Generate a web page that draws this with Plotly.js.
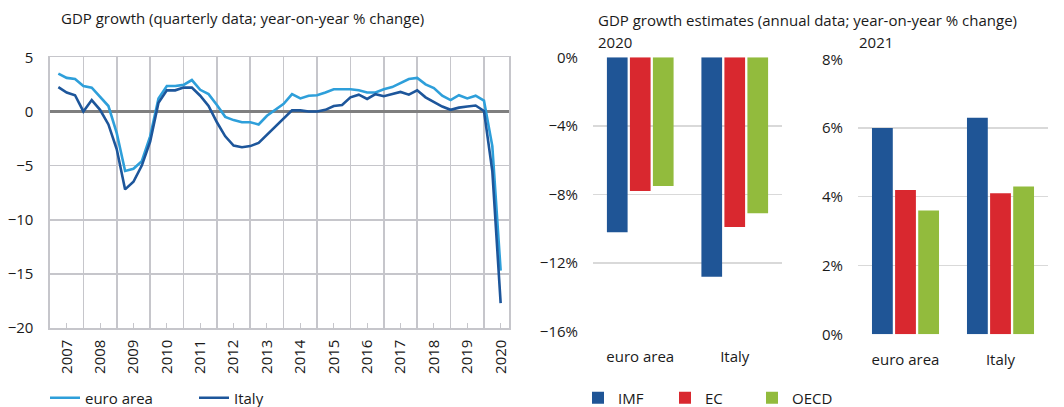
<!DOCTYPE html>
<html>
<head>
<meta charset="utf-8">
<script src="https://cdn.plot.ly/plotly-3.0.1.min.js"></script>
<style>html,body{margin:0;padding:0;background:#fff}#chart{width:1064px;height:407px}</style>
</head>
<body>
<div id="chart"></div>
<script>
// ---- Data: quarterly GDP growth (y/y %), 2007Q1 .. 2020Q2 ----
const startYear = 2007;
const nQuarters = 54;
const euroArea = [3.5, 3.1, 3.0, 2.35, 2.2, 1.4, 0.5, -2.0,
  -5.5, -5.3, -4.6, -2.3, 1.2, 2.35, 2.35, 2.45,
  2.9, 2.0, 1.6, 0.6, -0.5, -0.8, -1.0, -1.0,
  -1.2, -0.4, 0.15, 0.7, 1.6, 1.2, 1.45, 1.5,
  1.75, 2.05, 2.05, 2.05, 1.95, 1.75, 1.75, 2.05,
  2.25, 2.65, 3.0, 3.1, 2.5, 2.15, 1.45, 1.05,
  1.5, 1.2, 1.45, 1.0, -3.2, -14.7];
const italy = [2.25, 1.75, 1.5, 0.0, 1.05, 0.15, -1.2, -3.5,
  -7.2, -6.5, -5.0, -2.8, 0.8, 1.95, 1.95, 2.2,
  2.2, 1.45, 0.5, -1.0, -2.3, -3.15, -3.3, -3.2,
  -2.9, -2.15, -1.4, -0.7, 0.1, 0.1, 0.0, 0.0,
  0.15, 0.5, 0.6, 1.3, 1.55, 1.15, 1.6, 1.4,
  1.6, 1.8, 1.55, 1.95, 1.3, 0.9, 0.45, 0.15,
  0.35, 0.45, 0.55, 0.05, -5.5, -17.7];
const yearLabels = ['2007','2008','2009','2010','2011','2012','2013','2014','2015','2016','2017','2018','2019','2020'];

// ---- Data: annual GDP growth estimates (%) ----
const countries = ['euro area', 'Italy'];
const sources = ['IMF', 'EC', 'OECD'];
const est2020 = {IMF: [-10.2, -12.8], EC: [-7.8, -9.9], OECD: [-7.5, -9.1]};
const est2021 = {IMF: [6.0, 6.3], EC: [4.2, 4.1], OECD: [3.6, 4.3]};
const sourceColors = {IMF: '#1f5596', EC: '#d9282f', OECD: '#92bb3d'};

// quarter-end positions on a numeric year axis
const qx = [];
for (let i = 0; i < nQuarters; i++) qx.push(startYear + (i + 1) / 4);
const yearMid = yearLabels.map(y => +y + 0.5);
const yearEdges = yearLabels.slice(1).map(y => +y);

const W = 1064, H = 407;
const px = v => v / W;
const py = v => 1 - v / H;

const FONT = 'Open Sans, Noto Sans, sans-serif';
const TXT = '#1a1a1a';

const traces = [
  {x: qx, y: euroArea, name: 'euro area', type: 'scatter', mode: 'lines',
   line: {color: '#2e9fda', width: 2.6}, xaxis: 'x', yaxis: 'y', legend: 'legend'},
  {x: qx, y: italy, name: 'Italy', type: 'scatter', mode: 'lines',
   line: {color: '#1d569b', width: 2.6}, xaxis: 'x', yaxis: 'y', legend: 'legend'}
];
sources.forEach(s => {
  traces.push({x: countries, y: est2020[s], name: s, type: 'bar',
    marker: {color: sourceColors[s]}, xaxis: 'x2', yaxis: 'y2', legend: 'legend2'});
});
sources.forEach(s => {
  traces.push({x: countries, y: est2021[s], name: s, type: 'bar', showlegend: false,
    marker: {color: sourceColors[s]}, xaxis: 'x3', yaxis: 'y3'});
});

const gridC = '#c6c6cb';
const barGridC = '#d9d9d9';

const layout = {
  width: W, height: H,
  margin: {l: 0, r: 0, t: 0, b: 0, autoexpand: false},
  paper_bgcolor: '#fff', plot_bgcolor: 'rgba(0,0,0,0)',
  font: {family: FONT, size: 15, color: TXT},
  barmode: 'group', bargap: 0.27, bargroupgap: 0.1,
  showlegend: true,
  xaxis: {domain: [px(50), px(509)], anchor: 'y', range: [2007, 2020.75], automargin: false,
    tickvals: yearMid, ticktext: yearLabels, tickangle: -90,
    ticks: 'inside', ticklen: 5, tickcolor: gridC, ticklabelstandoff: 4,
    showgrid: false, zeroline: false,
    minor: {tickvals: yearEdges, showgrid: true, gridcolor: gridC, gridwidth: 1.6, ticks: ''},
    showline: true, mirror: true, linecolor: gridC, linewidth: 1.6,
    tickfont: {size: 15}},
  yaxis: {domain: [py(328), py(57.3)], anchor: 'x', range: [-20, 5], tick0: 0, dtick: 5, automargin: false,
    showgrid: true, gridcolor: gridC, gridwidth: 1.6,
    zeroline: true, zerolinecolor: '#7f7f7f', zerolinewidth: 2.2,
    showline: true, mirror: true, linecolor: gridC, linewidth: 1.6,
    ticks: '', ticklabelstandoff: 12, tickfont: {size: 15}},
  xaxis2: {domain: [px(593), px(782)], anchor: 'y2', type: 'category', automargin: false,
    showgrid: false, zeroline: false, showline: false, ticks: '', ticklabelstandoff: 14},
  yaxis2: {domain: [py(331.7), py(57.3)], anchor: 'x2', range: [-16, 0], tick0: 0, dtick: 4, automargin: false,
    ticksuffix: '%', showgrid: true, gridcolor: barGridC, gridwidth: 1.3, zeroline: false,
    ticks: '', ticklabelstandoff: 14},
  xaxis3: {domain: [px(858), px(1048)], anchor: 'y3', type: 'category', automargin: false,
    showgrid: false, zeroline: false, showline: false, ticks: '', ticklabelstandoff: 15},
  yaxis3: {domain: [py(334.3), py(59.3)], anchor: 'x3', range: [0, 8], tick0: 0, dtick: 2, automargin: false,
    ticksuffix: '%', showgrid: true, gridcolor: barGridC, gridwidth: 1.3, zeroline: false,
    ticks: '', ticklabelstandoff: 14},
  legend: {orientation: 'h', x: px(45), xanchor: 'left', y: py(398), yanchor: 'middle',
    entrywidth: 104, font: {size: 15}, bgcolor: 'rgba(0,0,0,0)', itemwidth: 30},
  legend2: {orientation: 'h', x: px(578), xanchor: 'left', y: py(398), yanchor: 'middle',
    entrywidth: 42, font: {size: 15}, bgcolor: 'rgba(0,0,0,0)', itemwidth: 30},
  annotations: [
    {text: 'GDP growth (quarterly data; year-on-year % change)', xref: 'paper', yref: 'paper',
     x: px(59), y: py(18), xanchor: 'left', yanchor: 'middle', showarrow: false, font: {size: 15}},
    {text: 'GDP growth estimates (annual data; year-on-year % change)', xref: 'paper', yref: 'paper',
     x: px(596), y: py(20), xanchor: 'left', yanchor: 'middle', showarrow: false, font: {size: 15}},
    {text: '2020', xref: 'paper', yref: 'paper',
     x: px(596), y: py(42), xanchor: 'left', yanchor: 'middle', showarrow: false, font: {size: 15}},
    {text: '2021', xref: 'paper', yref: 'paper',
     x: px(857), y: py(42), xanchor: 'left', yanchor: 'middle', showarrow: false, font: {size: 15}}
  ]
};

Plotly.newPlot('chart', traces, layout, {displayModeBar: false, staticPlot: true});
</script>
</body>
</html>
